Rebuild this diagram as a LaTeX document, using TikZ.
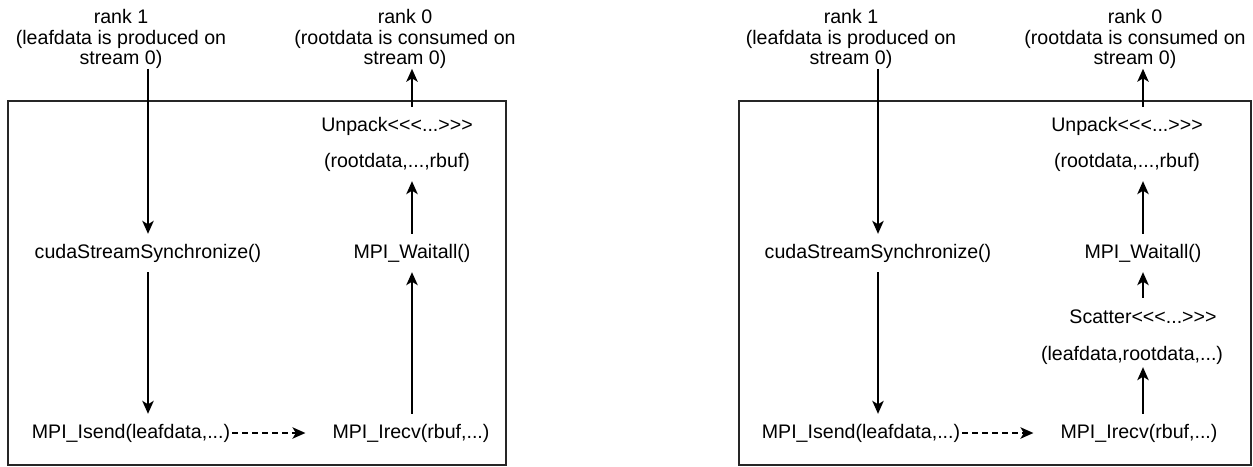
\documentclass[tikz,border=0pt]{standalone}
\usepackage{fontspec}
\setmainfont{Liberation Sans}
\usetikzlibrary{arrows.meta}
\tikzset{
  lbl/.style={font=\fontsize{19.6}{20.5}\selectfont, inner sep=0pt, minimum height=38pt, align=center},
  head/.style={font=\fontsize{19.6}{20.5}\selectfont, inner sep=0pt, align=center},
  arr/.style={-{Stealth[length=13pt,width=11.5pt,inset=3.5pt]}, line width=1.5pt},
  dasharr/.style={arr, dash pattern=on 5.5pt off 4.5pt, shorten <=2pt, shorten >=27pt},
  panel/.style={draw=black!85, line width=1.3pt}
}
\begin{document}
\begin{tikzpicture}[x=1pt, y=-1pt]
\useasboundingbox (0,0) rectangle (1253,466);

% ---------- left panel ----------
\draw[panel] (8,101) rectangle (506,465);
\node[head] (ar1) at (121,39) {rank 1\\(leafdata is produced on\\stream 0)};
\node[head] (ar0) at (405,39) {rank 0\\(rootdata is consumed on\\stream 0)};
\node[lbl] (acuda) at (148,253) {cudaStreamSynchronize()};
\node[lbl] (aisend) at (131,433) {MPI\_Isend(leafdata,...)};
\node[lbl] (airecv) at (411,433) {MPI\_Irecv(rbuf,...)};
\node[lbl] (await) at (412,253) {MPI\_Waitall()};
\node[lbl] (aunpack) at (397,126) {Unpack<{}<{}<...>{}>{}>};
\node[lbl] (aroot) at (397,162) {(rootdata,...,rbuf)};

\draw[arr] (acuda |- ar1.south) -- (acuda.north);
\draw[arr] (acuda.south) -- (acuda.south |- aisend.north);
\draw[dasharr] (aisend.east) -- (airecv.west);
\draw[arr] (airecv.north -| await) -- (await.south);
\draw[arr] (await.north) -- (await |- aroot.south);
\draw[arr] (await |- aunpack.north) -- (await |- ar0.south);

% ---------- right panel ----------
\draw[panel] (739,101) rectangle (1251,465);
\node[head] (br1) at (851,39) {rank 1\\(leafdata is produced on\\stream 0)};
\node[head] (br0) at (1135,39) {rank 0\\(rootdata is consumed on\\stream 0)};
\node[lbl] (bcuda) at (878,253) {cudaStreamSynchronize()};
\node[lbl] (bisend) at (861,433) {MPI\_Isend(leafdata,...)};
\node[lbl] (birecv) at (1139,433) {MPI\_Irecv(rbuf,...)};
\node[lbl] (bwait) at (1143,253) {MPI\_Waitall()};
\node[lbl] (bunpack) at (1127,126) {Unpack<{}<{}<...>{}>{}>};
\node[lbl] (broot) at (1127,162) {(rootdata,...,rbuf)};
\node[lbl] (bscatter) at (1143,317) {Scatter<{}<{}<...>{}>{}>};
\node[lbl, minimum height=24pt] (bleaf) at (1132,355) {(leafdata,rootdata,...)};

\draw[arr] (bcuda |- br1.south) -- (bcuda.north);
\draw[arr] (bcuda.south) -- (bcuda.south |- bisend.north);
\draw[dasharr] (bisend.east) -- (birecv.west);
\draw[arr] (birecv.north -| bwait) -- (bwait |- bleaf.south);
\draw[arr] (bwait |- bscatter.north) -- (bwait.south);
\draw[arr] (bwait.north) -- (bwait |- broot.south);
\draw[arr] (bwait |- bunpack.north) -- (bwait |- br0.south);
\end{tikzpicture}
\end{document}
